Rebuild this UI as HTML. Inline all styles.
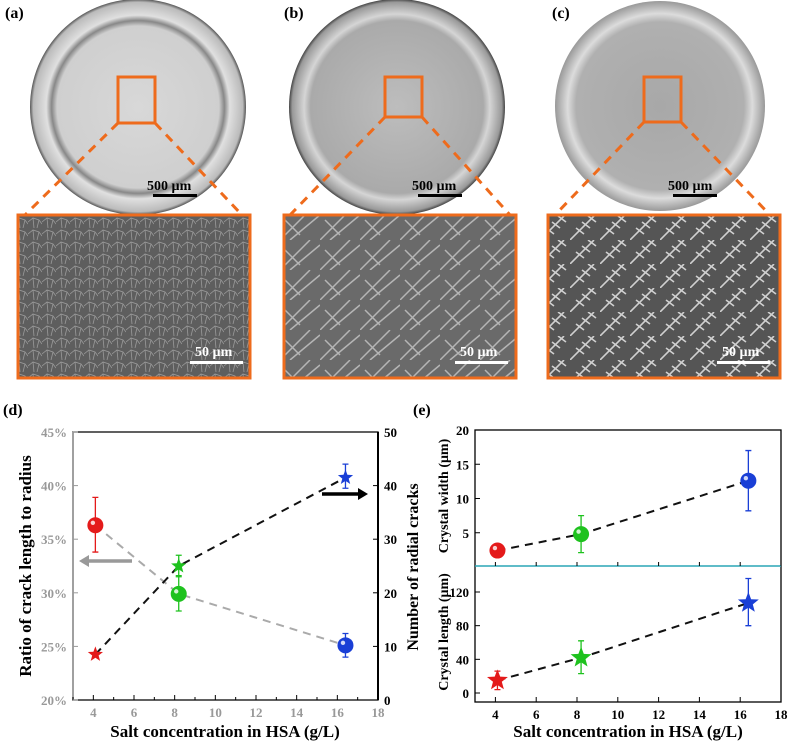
<!DOCTYPE html>
<html><head><meta charset="utf-8"><style>
body{margin:0;background:#fff;font-family:"Liberation Serif",serif;}
svg{display:block}
</style></head><body>
<svg id="fig" width="789" height="745" viewBox="0 0 789 745" xmlns="http://www.w3.org/2000/svg">
<defs>
<radialGradient id="dishA" cx="50%" cy="50%" r="50%"><stop offset="0" stop-color="#d8d8d8"/><stop offset="0.75" stop-color="#cfcfcf"/><stop offset="0.8" stop-color="#888"/><stop offset="0.85" stop-color="#e0e0e0"/><stop offset="0.97" stop-color="#bbb"/><stop offset="1" stop-color="#555"/></radialGradient>
<radialGradient id="dishB" cx="50%" cy="50%" r="50%"><stop offset="0" stop-color="#bdbdbd"/><stop offset="0.8" stop-color="#aaa"/><stop offset="0.86" stop-color="#d5d5d5"/><stop offset="0.97" stop-color="#999"/><stop offset="1" stop-color="#444"/></radialGradient>
<radialGradient id="dishC" cx="50%" cy="50%" r="50%"><stop offset="0" stop-color="#a8a8a8"/><stop offset="0.8" stop-color="#b0b0b0"/><stop offset="0.88" stop-color="#dcdcdc"/><stop offset="1" stop-color="#999"/></radialGradient>
<pattern id="cellpat" width="14" height="12" patternUnits="userSpaceOnUse"><rect width="14" height="12" fill="#5e5e5e"/><path d="M0 6 L5 2 L11 4 L14 8 M5 2 L6 12 M11 4 L9 12" stroke="#9a9a9a" stroke-width="0.8" fill="none"/></pattern>
<pattern id="crystB" width="40" height="30" patternUnits="userSpaceOnUse"><rect width="40" height="30" fill="#6a6a6a"/><path d="M0 30 L30 0 M10 30 L40 5 M5 10 L20 25" stroke="#b5b5b5" stroke-width="1.5" fill="none"/></pattern>
<pattern id="crystC" width="30" height="24" patternUnits="userSpaceOnUse"><rect width="30" height="24" fill="#555"/><path d="M0 24 L24 0 M6 12 L14 18 M12 6 L20 12 M18 0 L26 6" stroke="#d0d0d0" stroke-width="1.6" fill="none"/></pattern>
</defs>
<g>
<circle cx="138" cy="107" r="108" fill="url(#dishA)"/>
<rect x="118" y="77" width="37" height="46" fill="none" stroke="#ee6b1c" stroke-width="3"/>
<path d="M118 123 L25 215 M155 123 L242 215" stroke="#ee6b1c" stroke-width="3" stroke-dasharray="9 7"/>
<text x="147" y="190" font-size="14" font-weight="bold">500 µm</text>
<rect x="153" y="194" width="44" height="3" fill="#000"/>
<rect x="18" y="215" width="232" height="163" fill="url(#cellpat)" stroke="#ee6b1c" stroke-width="3"/>
<text x="195" y="356" font-size="14" font-weight="bold" fill="#fff">50 µm</text>
<rect x="190" y="361" width="53" height="3" fill="#fff"/>
<text x="5" y="18" font-size="16" font-weight="bold">(a)</text>
</g>
<g>
<circle cx="397" cy="107" r="108" fill="url(#dishB)"/>
<rect x="385" y="77" width="37" height="40" fill="none" stroke="#ee6b1c" stroke-width="3"/>
<path d="M385 117 L290 215 M422 117 L510 215" stroke="#ee6b1c" stroke-width="3" stroke-dasharray="9 7"/>
<text x="412" y="190" font-size="14" font-weight="bold">500 µm</text>
<rect x="418" y="194" width="44" height="3" fill="#000"/>
<rect x="284" y="215" width="232" height="163" fill="url(#crystB)" stroke="#ee6b1c" stroke-width="3"/>
<text x="460" y="356" font-size="14" font-weight="bold" fill="#fff">50 µm</text>
<rect x="455" y="361" width="53" height="3" fill="#fff"/>
<text x="284" y="18" font-size="16" font-weight="bold">(b)</text>
</g>
<g>
<circle cx="660" cy="106" r="105" fill="url(#dishC)"/>
<rect x="644" y="77" width="37" height="45" fill="none" stroke="#ee6b1c" stroke-width="3"/>
<path d="M644 122 L555 215 M681 122 L770 215" stroke="#ee6b1c" stroke-width="3" stroke-dasharray="9 7"/>
<text x="668" y="190" font-size="14" font-weight="bold">500 µm</text>
<rect x="673" y="194" width="44" height="3" fill="#000"/>
<rect x="548" y="215" width="232" height="163" fill="url(#crystC)" stroke="#ee6b1c" stroke-width="3"/>
<text x="722" y="356" font-size="14" font-weight="bold" fill="#fff">50 µm</text>
<rect x="717" y="361" width="53" height="3" fill="#fff"/>
<text x="552" y="18" font-size="16" font-weight="bold">(c)</text>
</g>
<text x="3" y="415" font-size="16" font-weight="bold">(d)</text>
<text x="413" y="415" font-size="16" font-weight="bold">(e)</text>
<g id="chartD"></g>
<g id="chartE"></g>
</svg>
<script>
const xVals=[4.1,8.2,16.4];
const colors=['#e41a1a','#1ec21e','#1a3fd6'];
const ratioVals=[36.3,29.9,25.1];
const ratioLo=[33.8,28.3,24.0];
const ratioHi=[38.9,31.6,26.2];
const crackVals=[8.5,25,41.5];
const crackLo=[8.5,23,39.5];
const crackHi=[8.5,27,44];
const widthVals=[2.4,4.8,12.6];
const widthLo=[2.4,2.1,8.2];
const widthHi=[2.4,7.5,17];
const lengthVals=[15,42,107];
const lengthLo=[4,23,80];
const lengthHi=[26,62,136];
const xTicks=[4,6,8,10,12,14,16,18];
const ratioTicks=[20,25,30,35,40,45];
const crackTicks=[0,10,20,30,40,50];
const widthTicks=[5,10,15,20];
const lengthTicks=[0,40,80,120];

const NS='http://www.w3.org/2000/svg';
function el(parent,tag,attrs,text){const e=document.createElementNS(NS,tag);for(const k in attrs)e.setAttribute(k,attrs[k]);if(text!==undefined)e.textContent=text;parent.appendChild(e);return e;}
function lin(d0,d1,r0,r1){return v=>r0+(v-d0)/(d1-d0)*(r1-r0);}
function star(cx,cy,r){let p=[];for(let i=0;i<10;i++){const a=-Math.PI/2+i*Math.PI/5;const rr=i%2?r*0.42:r;p.push((cx+rr*Math.cos(a)).toFixed(1)+','+(cy+rr*Math.sin(a)).toFixed(1));}return p.join(' ');}
function errbar(g,x,y1,y2,c,name){const e=el(g,'path',{d:`M${x} ${y1}V${y2}M${x-3} ${y1}H${x+3}M${x-3} ${y2}H${x+3}`,stroke:c,'stroke-width':1.3,fill:'none'});

}
function ball(g,x,y,c,name){const e=el(g,'circle',{cx:x,cy:y,r:8,fill:c});


el(g,'circle',{cx:x-2.5,cy:y-2.5,r:2.2,fill:'#fff',opacity:0.8});}
function starMark(g,x,y,c,r,name){const e=el(g,'polygon',{points:star(x,y,r),fill:c});

}
function dashed(g,pts,c,name){const e=el(g,'polyline',{points:pts.map(p=>p.join(',')).join(' '),fill:'none',stroke:c,'stroke-width':2,'stroke-dasharray':'8 6'});

}
const F='font-family:"Liberation Serif",serif;font-weight:bold';

(function(){
const g=document.getElementById('chartD');
const L=73,R=378,T=432,B=700;
const x=lin(3,18,L,R), yl=lin(20,45,B,T), yr=lin(0,50,B,T);
const ax=el(g,'path',{d:`M${L} ${T}H${R}V${B}H${L}Z`,fill:'none',stroke:'#000','stroke-width':1.3});


el(g,'line',{x1:L,y1:T,x2:L,y2:B,stroke:'#999','stroke-width':1.5});
el(g,'line',{x1:R,y1:T,x2:R,y2:B,stroke:'#000','stroke-width':2});
xTicks.forEach(t=>{el(g,'line',{x1:x(t),y1:B,x2:x(t),y2:B-5,stroke:'#000'});const tx=el(g,'text',{x:x(t),y:B+17,'text-anchor':'middle','font-size':13,style:F,fill:'#999'},t);

});
for(let t=3;t<=17;t+=2)el(g,'line',{x1:x(t),y1:B,x2:x(t),y2:B-3,stroke:'#000'});
ratioTicks.forEach(t=>{el(g,'line',{x1:L,y1:yl(t),x2:L+5,y2:yl(t),stroke:'#999'});const tx=el(g,'text',{x:L-6,y:yl(t)+5,'text-anchor':'end','font-size':13,style:F,fill:'#999'},t+'%');

});
crackTicks.forEach(t=>{el(g,'line',{x1:R,y1:yr(t),x2:R-5,y2:yr(t),stroke:'#000'});const tx=el(g,'text',{x:R+6,y:yr(t)+5,'font-size':13,style:F},t);

});
dashed(g,xVals.map((v,i)=>[x(v),yl(ratioVals[i])]),'#aaa','ratio-line');
dashed(g,xVals.map((v,i)=>[x(v),yr(crackVals[i])]),'#111','crack-line');
xVals.forEach((v,i)=>{errbar(g,x(v),yl(ratioLo[i]),yl(ratioHi[i]),colors[i],'ratio-error-bar');ball(g,x(v),yl(ratioVals[i]),colors[i],'ratio-point');});
xVals.forEach((v,i)=>{if(crackHi[i]!==crackLo[i])errbar(g,x(v),yr(crackLo[i]),yr(crackHi[i]),colors[i],'crack-error-bar');starMark(g,x(v),yr(crackVals[i]),colors[i],8,'crack-point');});
el(g,'path',{d:'M132 561H85',stroke:'#999','stroke-width':3.5});
el(g,'polygon',{points:'79,561 89,555 89,567',fill:'#999'});
el(g,'path',{d:'M322 494H360',stroke:'#000','stroke-width':3.5});
el(g,'polygon',{points:'368,494 358,488 358,500',fill:'#000'});
const xt=el(g,'text',{x:225,y:737,'text-anchor':'middle','font-size':17,style:F},'Salt concentration in HSA (g/L)');


const yt=el(g,'text',{transform:'translate(31,566) rotate(-90)','text-anchor':'middle','font-size':17,style:F},'Ratio of crack length to radius');


const yt2=el(g,'text',{transform:'translate(418,567) rotate(-90)','text-anchor':'middle','font-size':16,style:F},'Number of radial cracks');


})();

(function(){
const g=document.getElementById('chartE');
const L=475,R=781,T=430,M=566,B=702;
const x=lin(3,18,L,R), yw=lin(0,20,567,T), yL=lin(0,120,693,592);
const fr=el(g,'rect',{x:L,y:T,width:R-L,height:B-T,fill:'none',stroke:'#000','stroke-width':1.3});


el(g,'line',{x1:L,y1:M,x2:R,y2:M,stroke:'#2aa6b5','stroke-width':1.5});
xTicks.forEach(t=>{el(g,'line',{x1:x(t),y1:B,x2:x(t),y2:B-5,stroke:'#000'});el(g,'line',{x1:x(t),y1:M,x2:x(t),y2:M-4,stroke:'#000'});const tx=el(g,'text',{x:x(t),y:B+17,'text-anchor':'middle','font-size':13,style:F},t);

});
widthTicks.forEach(t=>{el(g,'line',{x1:L,y1:yw(t),x2:L+5,y2:yw(t),stroke:'#000'});const tx=el(g,'text',{x:L-6,y:yw(t)+5,'text-anchor':'end','font-size':13,style:F},t);

});
lengthTicks.forEach(t=>{el(g,'line',{x1:L,y1:yL(t),x2:L+5,y2:yL(t),stroke:'#000'});const tx=el(g,'text',{x:L-6,y:yL(t)+5,'text-anchor':'end','font-size':13,style:F},t);

});
dashed(g,xVals.map((v,i)=>[x(v),yw(widthVals[i])]),'#111','width-line');
dashed(g,xVals.map((v,i)=>[x(v),yL(lengthVals[i])]),'#111','length-line');
xVals.forEach((v,i)=>{if(widthHi[i]!==widthLo[i])errbar(g,x(v),yw(widthLo[i]),yw(widthHi[i]),colors[i],'width-error-bar');ball(g,x(v),yw(widthVals[i]),colors[i],'width-point');});
xVals.forEach((v,i)=>{errbar(g,x(v),yL(lengthLo[i]),yL(lengthHi[i]),colors[i],'length-error-bar');starMark(g,x(v),yL(lengthVals[i]),colors[i],11,'length-point');});
const xt=el(g,'text',{x:628,y:737,'text-anchor':'middle','font-size':17,style:F},'Salt concentration in HSA (g/L)');


const y1=el(g,'text',{transform:'translate(448,496) rotate(-90)','text-anchor':'middle','font-size':14,style:F},'Crystal width (μm)');


const y2=el(g,'text',{transform:'translate(448,632) rotate(-90)','text-anchor':'middle','font-size':14,style:F},'Crystal length (μm)');


})();
</script>
</body></html>
